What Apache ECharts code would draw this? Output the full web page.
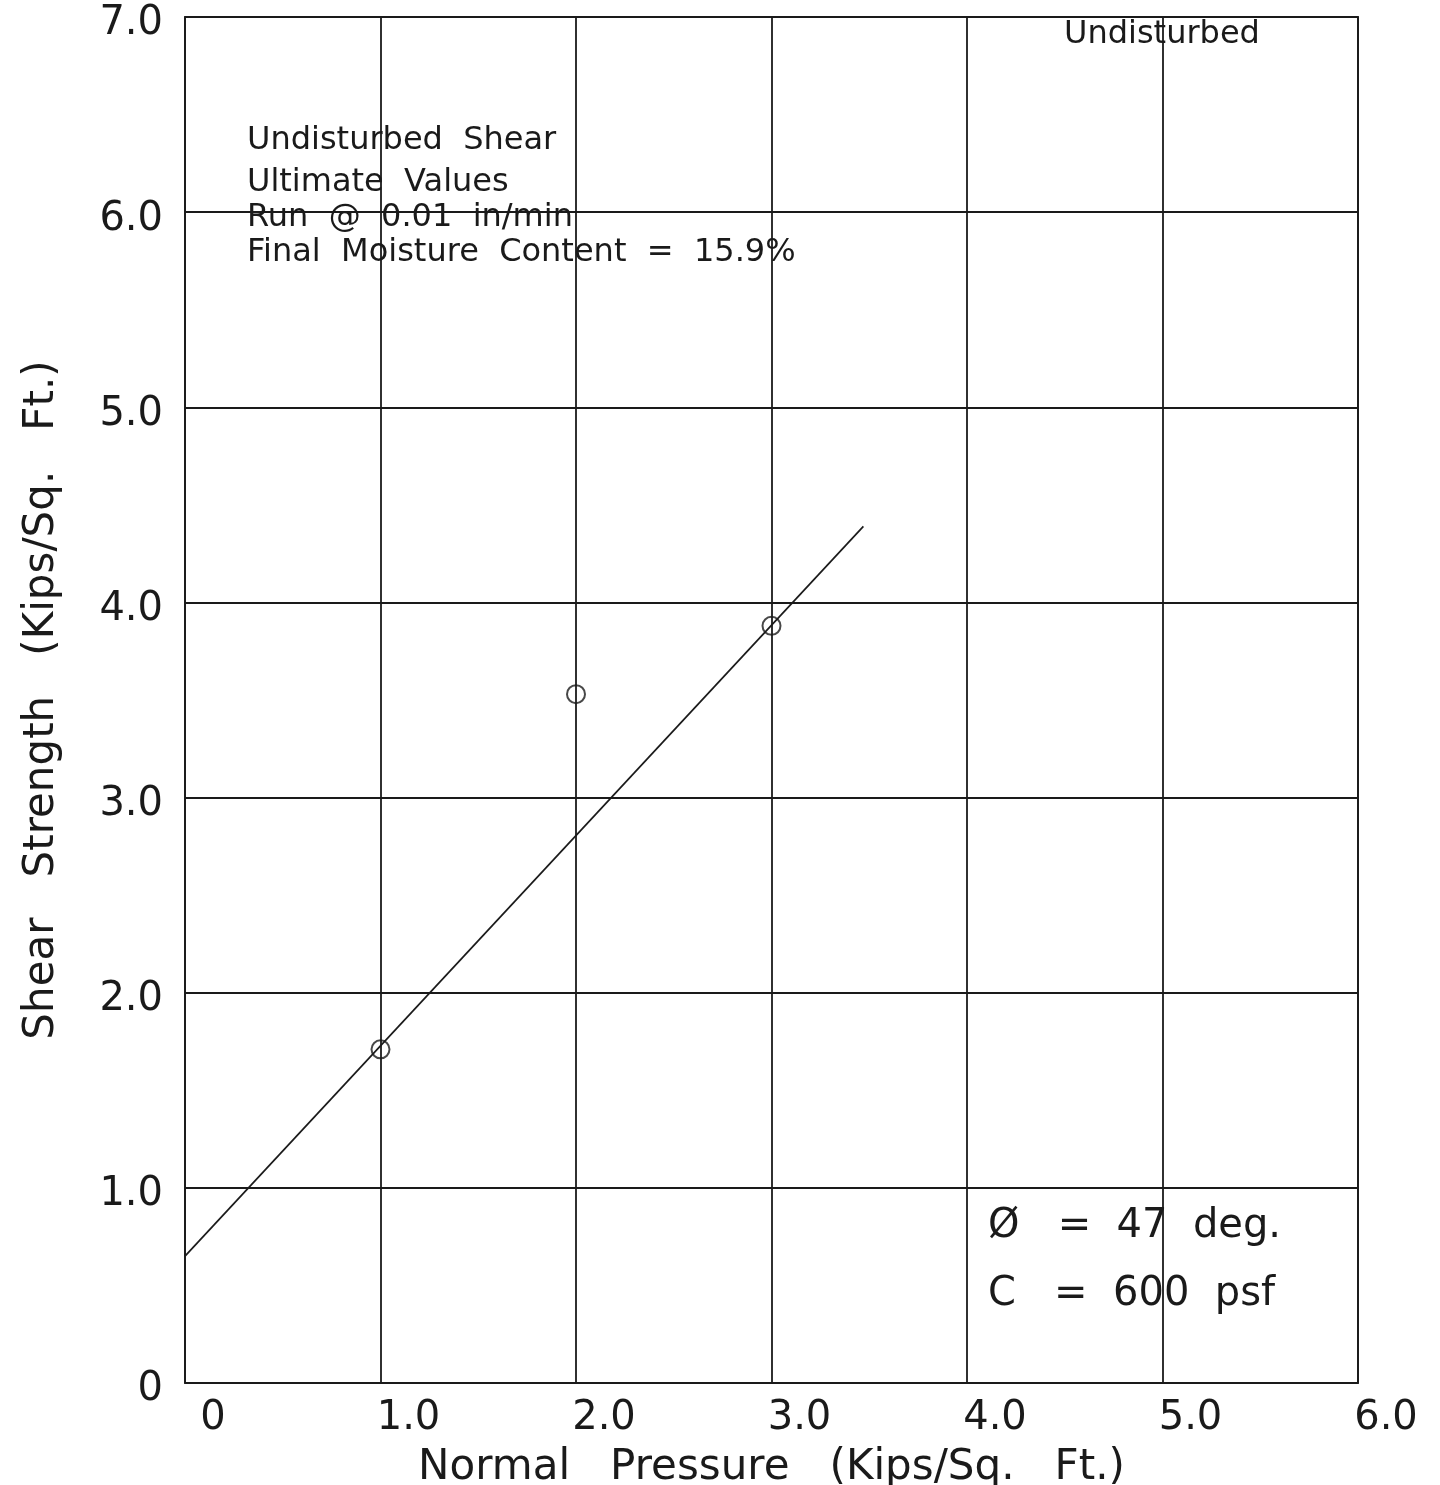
<!DOCTYPE html>
<html>
<head>
<meta charset="utf-8">
<script src="https://cdn.jsdelivr.net/npm/echarts@6/dist/echarts.min.js"></script>
<style>
html,body{margin:0;padding:0;background:#fff;}
#chart{width:1440px;height:1485px;}
</style>
</head>
<body>
<div id="chart"></div>
<script>
// Test points (normal pressure, shear strength) in ksf
const testPoints = [[1.0, 1.71], [2.0, 3.53], [3.0, 3.88]];
// Fitted failure envelope endpoints
const envelopeLine = [[0, 0.65], [3.47, 4.39]];
const xTicks = ['0', '1.0', '2.0', '3.0', '4.0', '5.0', '6.0'];
const yTicks = ['0', '1.0', '2.0', '3.0', '4.0', '5.0', '6.0', '7.0'];
const notesTopLeft = ['Undisturbed  Shear', 'Ultimate  Values', 'Run  @  0.01  in/min', 'Final  Moisture  Content  =  15.9%'];
const noteTopRight = 'Undisturbed';
const notesParams = ['\u00D8   =  47  deg.', 'C   =  600  psf'];

const FONT = '"DejaVu Sans", sans-serif';
const INK = '#1a1a1a';
const chart = echarts.init(document.getElementById('chart'), null, {renderer: 'canvas'});

const gridLeft = 185, gridTop = 17;
chart.setOption({
  backgroundColor: '#fff',
  animation: false,
  grid: {left: gridLeft, right: 82, top: gridTop, bottom: 102, containLabel: false, outerBoundsMode: 'none',
         show: true, borderColor: INK, borderWidth: 1.8},
  xAxis: {
    type: 'value', min: 0, max: 6, interval: 1,
    name: 'Normal   Pressure   (Kips/Sq.   Ft.)',
    nameLocation: 'middle', nameGap: 64,
    nameTextStyle: {fontFamily: FONT, fontSize: 42, color: INK},
    axisLine: {show: false}, axisTick: {show: false},
    splitLine: {show: true, lineStyle: {color: INK, width: 1.8}},
    axisLabel: {
      fontFamily: FONT, fontSize: 40, color: INK, margin: 16,
      padding: [0, 0, 0, 56],
      formatter: v => xTicks[Math.round(v)]
    }
  },
  yAxis: {
    type: 'value', min: 0, max: 7, interval: 1,
    name: 'Shear   Strength   (Kips/Sq.   Ft.)',
    nameLocation: 'middle', nameGap: 122, nameRotate: 90,
    nameTextStyle: {fontFamily: FONT, fontSize: 42, color: INK},
    axisLine: {show: false}, axisTick: {show: false},
    splitLine: {show: true, lineStyle: {color: INK, width: 1.8}},
    axisLabel: {
      fontFamily: FONT, fontSize: 40, color: INK, margin: 22,
      lineHeight: 14,
      formatter: v => '\n' + yTicks[Math.round(v)]
    }
  },
  series: [
    {
      type: 'line', data: envelopeLine, symbol: 'none',
      lineStyle: {color: INK, width: 1.7}, z: 3
    },
    {
      type: 'scatter', data: testPoints, symbol: 'circle', symbolSize: 18,
      itemStyle: {color: 'rgba(255,255,255,0)', borderColor: INK, borderWidth: 2}, z: 4
    }
  ],
  graphic: [
    ...notesTopLeft.map((t, i) => ({
      type: 'text', x: 247, y: [141, 183, 218, 253][i], z: 10,
      style: {text: t, font: '32px ' + FONT, fill: INK, verticalAlign: 'middle'}
    })),
    {type: 'text', x: 1064, y: 35, z: 10, style: {text: noteTopRight, font: '32px ' + FONT, fill: INK, verticalAlign: 'middle'}},
    ...notesParams.map((t, i) => ({
      type: 'text', x: 988, y: [1227, 1295][i], z: 10,
      style: {text: t, font: '40px ' + FONT, fill: INK, verticalAlign: 'middle'}
    }))
  ]
});
</script>
</body>
</html>
